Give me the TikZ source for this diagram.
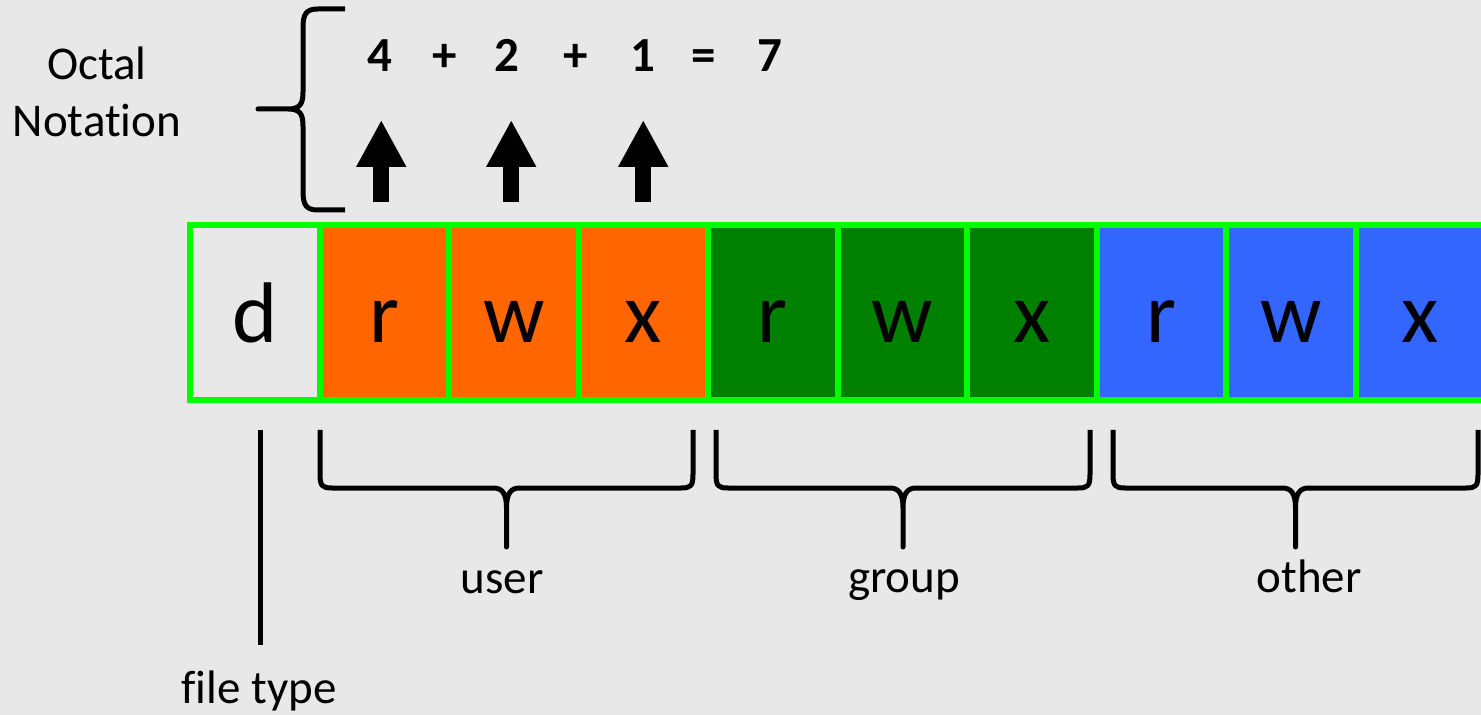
\documentclass[tikz,border=0pt]{standalone}
\usepackage{fontspec}
\setmainfont{Carlito}[Ligatures=NoCommon]
\usetikzlibrary{arrows.meta,calc}

\definecolor{paper}{RGB}{232,232,232}
\definecolor{cellline}{RGB}{0,255,0}
\definecolor{usercol}{RGB}{255,102,0}
\definecolor{groupcol}{RGB}{0,128,0}
\definecolor{othercol}{RGB}{51,102,255}

\tikzset{
  cell/.style={draw=cellline, line width=3pt, minimum width=64.75pt,
    minimum height=87.5pt, inner sep=0pt, outer sep=0pt,
    text height=30.5pt, text depth=0pt,
    font=\fontsize{43}{50}\selectfont},
  lbl/.style={font=\fontsize{23.5}{28.5}\selectfont, anchor=base, inner sep=0pt},
  sym/.style={font=\fontsize{24.5}{28}\selectfont\bfseries, anchor=base, inner sep=0pt},
  bracket/.style={line width=2.5pt, line join=round},
  bitarrow/.style={line width=8pt, -{Triangle[width=23.5pt,length=23.5pt]}}
}

\begin{document}
\begin{tikzpicture}[x=0.5pt, y=-0.5pt]
  % paper
  \fill[paper] (0,0) rectangle (1481,715);
  \useasboundingbox (0,0) rectangle (1481,715);
  \clip (0,0) rectangle (1481,715);

  % permission string cells
  \node[cell]                 (ft) at (254.75,312.5) {d};
  \node[cell, fill=usercol]   (u1) at (384.25,312.5) {r};
  \node[cell, fill=usercol]   (u2) at (513.75,312.5) {w};
  \node[cell, fill=usercol]   (u3) at (643.25,312.5) {x};
  \node[cell, fill=groupcol]  (g1) at (772.75,312.5) {r};
  \node[cell, fill=groupcol]  (g2) at (902.25,312.5) {w};
  \node[cell, fill=groupcol]  (g3) at (1031.75,312.5) {x};
  \node[cell, fill=othercol]  (o1) at (1161.25,312.5) {r};
  \node[cell, fill=othercol]  (o2) at (1290.75,312.5) {w};
  \node[cell, fill=othercol]  (o3) at (1420.25,312.5) {x};

  % octal sum
  \node[sym] (s4) at (380,72) {4};
  \node[sym] (p1) at (445,72) {+};
  \node[sym] (s2) at (507,72) {2};
  \node[sym] (p2) at (576,72) {+};
  \node[sym] (s1) at (643,72) {1};
  \node[sym] (eq) at (704,72) {=};
  \node[sym] (s7) at (770,72) {7};

  % bit arrows
  \foreach \c/\dx in {u1/-3, u2/-2.5, u3/0}
    \draw[bitarrow] ([xshift=\dx*0.5pt, yshift=11.5pt]\c.north) -- ([xshift=\dx*0.5pt, yshift=52.5pt]\c.north);

  % left brace
  \draw[bracket] (345,9) -- (318,9) .. controls (306,9) and (303,14) .. (303,28)
    -- (303,92) .. controls (303,104) and (300,109) .. (288,109) -- (258,109)
    -- (288,109) .. controls (300,109) and (303,114) .. (303,126)
    -- (303,191) .. controls (303,205) and (306,210) .. (318,210) -- (345,210);
  \node[lbl, align=center] (octal) at (97,137) {Octal\\Notation};

  % file type marker
  \coordinate (fttop) at (260,430);
  \coordinate (ftbot) at (260,645);
  \draw[bracket] (fttop) -- (ftbot);
  \node[lbl] (ftlbl) at (259,703) {file type};

  % class braces
  \foreach \L/\R in {320/693, 716/1090, 1113/1478}{
    \pgfmathsetmacro{\M}{(\L+\R)/2}
    \draw[bracket] (\L,430) -- (\L,474) .. controls (\L,486) and (\L+2,488) .. (\L+12,488)
      -- (\M-13,488) .. controls (\M-4,488) and (\M,494) .. (\M,508) -- (\M,547)
      -- (\M,508) .. controls (\M,494) and (\M+4,488) .. (\M+13,488)
      -- (\R-12,488) .. controls (\R-2,488) and (\R,486) .. (\R,474) -- (\R,430);
  }
  \node[lbl] (user)  at (502,593)  {user};
  \node[lbl] (group) at (904,592)  {group};
  \node[lbl] (other) at (1309,592) {other};
\end{tikzpicture}
\end{document}
